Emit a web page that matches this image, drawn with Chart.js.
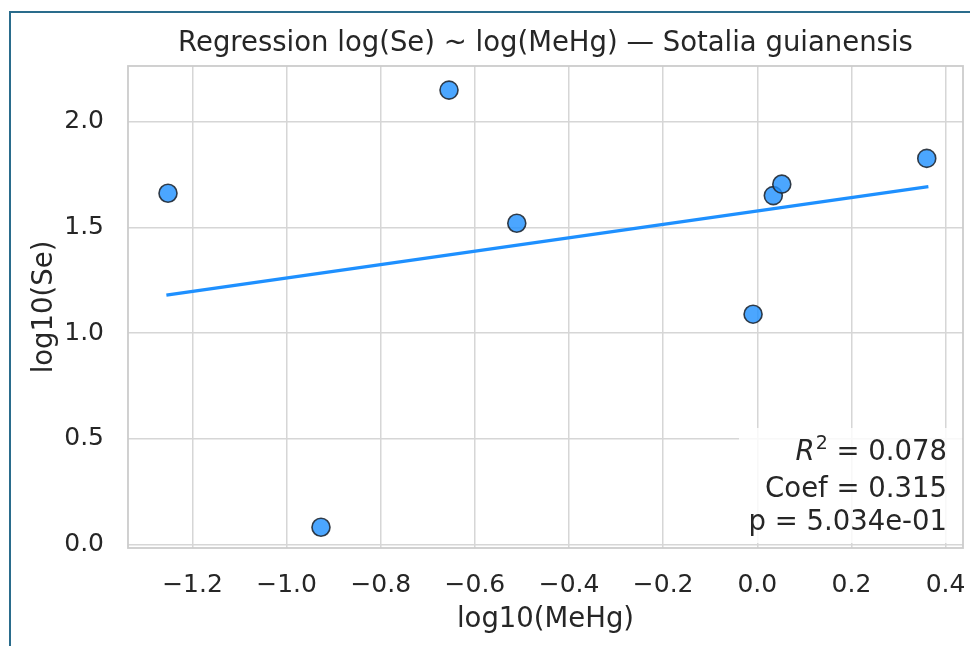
<!DOCTYPE html>
<html>
<head>
<meta charset="utf-8">
<script src="https://cdn.jsdelivr.net/npm/chart.js@4"></script>
<style>
  body { margin: 0; background: #fff; overflow: hidden; }
  #wrap { position: relative; width: 970px; height: 646px; overflow: hidden; }
  #cell { position: absolute; left: 9px; top: 11px; right: -4px; bottom: -4px; border-left: 2px solid #2a6c8c; border-top: 2px solid #2a6c8c; pointer-events: none; }
</style>
</head>
<body>
<div id="wrap">
  <canvas id="reg" width="970" height="646"></canvas>
  <div id="cell"></div>
</div>
<script>
const FONT = "'DejaVu Sans', sans-serif";
const INK = '#262626';

// points
const meHg = [-1.252, -0.927, -0.655, -0.511, -0.009, 0.034, 0.052, 0.360];
const se   = [ 1.662,  0.082,  2.150,  1.520,  1.090, 1.651, 1.705, 1.827];

// fitted line ends
const fitX = [-1.252, 0.360];
const fitY = [ 1.181, 1.692];

const xTicks = [-1.2, -1.0, -0.8, -0.6, -0.4, -0.2, 0.0, 0.2, 0.4];
const yTicks = [0.0, 0.5, 1.0, 1.5, 2.0];

const statLines = ['= 0.078', 'Coef = 0.315', 'p = 5.034e-01'];

const fmt = (v) => (v < -1e-9 ? '\u2212' : '') + Math.abs(v).toFixed(1);

const frameAndStats = {
  id: 'frameAndStats',
  afterDatasetsDraw(chart) {
    const { ctx, chartArea: a } = chart;
    ctx.save();
    // stats box
    ctx.fillStyle = 'rgba(255,255,255,0.82)';
    ctx.fillRect(a.right - 224, a.bottom - 120, 223, 115);

    ctx.fillStyle = INK;
    ctx.textAlign = 'right';
    ctx.textBaseline = 'alphabetic';
    const right = a.right - 16;
    const size = 27.5;
    ctx.font = size + 'px ' + FONT;
    ctx.fillText(statLines[1], right, a.bottom - 51);
    ctx.fillText(statLines[2], right, a.bottom - 18);
    // R^2 line
    const y1 = a.bottom - 88;
    ctx.fillText(statLines[0], right, y1);
    const w0 = ctx.measureText(' ' + statLines[0]).width;
    ctx.font = Math.round(size * 0.7) + 'px ' + FONT;
    const w2 = ctx.measureText('2').width;
    ctx.fillText('2', right - w0, y1 - 11);
    ctx.font = 'italic ' + size + 'px ' + FONT;
    ctx.fillText('R', right - w0 - w2 - 1, y1);

    // axes frame
    ctx.strokeStyle = '#cccccc';
    ctx.lineWidth = 1.8;
    ctx.strokeRect(a.left, a.top, a.right - a.left, a.bottom - a.top);
    ctx.restore();
  }
};

new Chart(document.getElementById('reg'), {
  type: 'scatter',
  data: {
    datasets: [
      {
        label: 'samples',
        data: meHg.map((x, i) => ({ x: x, y: se[i] })),
        backgroundColor: 'rgba(30,144,255,0.8)',
        borderColor: 'rgba(34,42,52,0.9)',
        borderWidth: 1.6,
        pointRadius: 9,
        pointHoverRadius: 9
      },
      {
        type: 'line',
        label: 'fit',
        data: fitX.map((x, i) => ({ x: x, y: fitY[i] })),
        borderColor: '#1e90ff',
        borderWidth: 3.3,
        borderCapStyle: 'square',
        pointRadius: 0,
        fill: false
      }
    ]
  },
  plugins: [frameAndStats],
  options: {
    responsive: false,
    animation: false,
    events: [],
    layout: { autoPadding: false, padding: { left: 0, right: 7, top: 0, bottom: 0 } },
    plugins: {
      legend: { display: false },
      tooltip: { enabled: false },
      title: {
        display: true,
        fullSize: false,
        text: 'Regression log(Se) ~ log(MeHg) \u2014 Sotalia guianensis',
        color: INK,
        font: { family: FONT, size: 27.5, weight: 'normal' },
        padding: { top: 27, bottom: 6 }
      }
    },
    scales: {
      x: {
        type: 'linear',
        min: -1.337,
        max: 0.437,
        afterFit: (s) => { s.height = 98; s.paddingLeft = 0; s.paddingRight = 0; },
        afterBuildTicks: (s) => { s.ticks = xTicks.map((v) => ({ value: v })); },
        border: { display: false },
        grid: { color: '#d6d6d6', lineWidth: 1.5, drawTicks: false },
        ticks: { padding: 22, color: INK, font: { family: FONT, size: 25 }, callback: fmt },
        title: {
          display: true,
          text: 'log10(MeHg)',
          color: INK,
          font: { family: FONT, size: 27.5 },
          padding: { top: 0, bottom: 9.5 }
        }
      },
      y: {
        type: 'linear',
        min: -0.016,
        max: 2.264,
        afterFit: (s) => { s.width = 128; s.paddingTop = 0; s.paddingBottom = 0; },
        afterBuildTicks: (s) => { s.ticks = yTicks.map((v) => ({ value: v })); },
        border: { display: false },
        grid: { color: '#d6d6d6', lineWidth: 1.5, drawTicks: false },
        ticks: { padding: 24, color: INK, font: { family: FONT, size: 25 }, callback: fmt },
        title: {
          display: true,
          text: 'log10(Se)',
          color: INK,
          font: { family: FONT, size: 27.5 },
          padding: { top: 28, bottom: 0 }
        }
      }
    }
  }
});
</script>
</body>
</html>
